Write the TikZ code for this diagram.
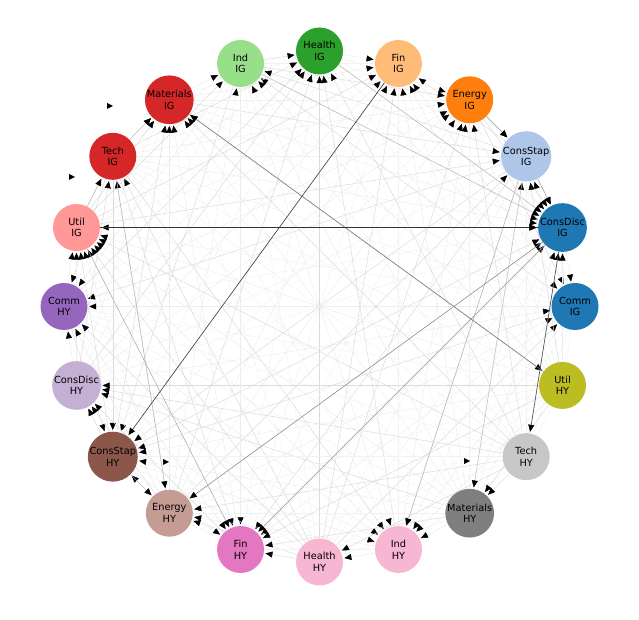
\documentclass[tikz,border=0pt]{standalone}
\usepackage{fontspec}
\setmainfont{DejaVu Sans}
\usetikzlibrary{arrows.meta,backgrounds}
\definecolor{cA}{HTML}{1F77B4}
\definecolor{cB}{HTML}{AEC7E8}
\definecolor{cC}{HTML}{FF7F0E}
\definecolor{cD}{HTML}{FFBB78}
\definecolor{cE}{HTML}{2CA02C}
\definecolor{cF}{HTML}{98DF8A}
\definecolor{cG}{HTML}{D62728}
\definecolor{cH}{HTML}{FF9896}
\definecolor{cI}{HTML}{9467BD}
\definecolor{cJ}{HTML}{C5B0D5}
\definecolor{cK}{HTML}{8C564B}
\definecolor{cL}{HTML}{C49C94}
\definecolor{cM}{HTML}{E377C2}
\definecolor{cN}{HTML}{F7B6D2}
\definecolor{cO}{HTML}{7F7F7F}
\definecolor{cP}{HTML}{C7C7C7}
\definecolor{cQ}{HTML}{BCBD22}
\begin{document}
\begin{tikzpicture}[x=1pt,y=1pt,
  vtx/.style={circle,minimum size=47pt,inner sep=0pt,align=center,
    font=\fontsize{9.8}{11.6}\selectfont,text=black},
  edg/.style={line width=0.5pt,-{Triangle[length=7pt,width=6pt,color=black]},shorten >=1.5pt},
  bare/.style={line width=0.5pt,draw=gray!10},
  looptip/.style={fill=black}
]
\useasboundingbox (0,0) rectangle (639,620);
\foreach \k/\a/\b/\col in {0/Comm/IG/cA,1/ConsDisc/IG/cA,2/ConsStap/IG/cB,3/Energy/IG/cC,
  4/Fin/IG/cD,5/Health/IG/cE,6/Ind/IG/cF,7/Materials/IG/cG,8/Tech/IG/cG,9/Util/IG/cH,
  10/Comm/HY/cI,11/ConsDisc/HY/cJ,12/ConsStap/HY/cK,13/Energy/HY/cL,14/Fin/HY/cM,
  15/Health/HY/cN,16/Ind/HY/cN,17/Materials/HY/cO,18/Tech/HY/cP,19/Util/HY/cQ}{
  \node[vtx,fill=\col] (n\k) at ({319.5+255.5*cos(18*\k)},{313.5+255.5*sin(18*\k)}) {\a\\\b};
}
\begin{scope}[on background layer]
\foreach \i in {0,...,18} {
  \pgfmathtruncatemacro{\ii}{\i+1}
  \foreach \j in {\ii,...,19} {
    \pgfmathtruncatemacro{\r}{mod(7*\i+11*\j+\i*\j,10)}
    \pgfmathtruncatemacro{\d}{mod(3*\i+\j*\j+\i*\j,2)}
    \pgfmathtruncatemacro{\s}{mod(\i*\j+\j,3)}
    \ifnum\r<7
      \ifnum\s=0 \def\ec{gray!28}\else\def\ec{gray!14}\fi
      \ifnum\d=0 \draw[edg,draw=\ec] (n\i) -- (n\j); \else \draw[edg,draw=\ec] (n\j) -- (n\i); \fi
    \else
      \draw[bare] (n\i) -- (n\j);
    \fi
  }
}
\draw[edg,draw=black!30] (n8) -- (n7);
\draw[edg,draw=black!30] (n9) -- (n8);
\draw[edg,draw=black!30] (n12) -- (n13);
\draw[edg,draw=black!40] (n3) -- (n2);
\draw[edg,draw=black!40] (n2) -- (n1);
\draw[edg,draw=black!28] (n5) -- (n1);
\draw[edg,draw=black!28] (n6) -- (n1);
\draw[edg,draw=black!28] (n2) -- (n16);
\draw[edg,draw=black!22] (n2) -- (n17);
\draw[edg,draw=black!28] (n8) -- (n13);
\draw[edg,draw=black!32] (n9) -- (n14);
\draw[edg,draw=black!42] (n1) -- (n14);
\draw[edg,draw=black!48] (n1) -- (n13);
\draw[edg,draw=black!45] (n7) -- (n19);
\draw[edg,draw=black!45] (n19) -- (n7);
\draw[edg,draw=black!70,line width=0.6pt] (n1) -- (n18);
\draw[edg,draw=black!78,line width=0.6pt] (n4) -- (n12);
\draw[edg,draw=black!80,line width=0.7pt] (n1) -- (n9);
\draw[edg,draw=black!80,line width=0.7pt] (n9) -- (n1);
\end{scope}
\fill[looptip] (107,517) -- (113,514) -- (107,511) -- cycle;
\fill[looptip] (69,446) -- (75,443) -- (69,440) -- cycle;
\fill[looptip] (163,161) -- (169,158) -- (163,155) -- cycle;
\fill[looptip] (464,162) -- (470,159) -- (464,156) -- cycle;
\end{tikzpicture}
\end{document}
